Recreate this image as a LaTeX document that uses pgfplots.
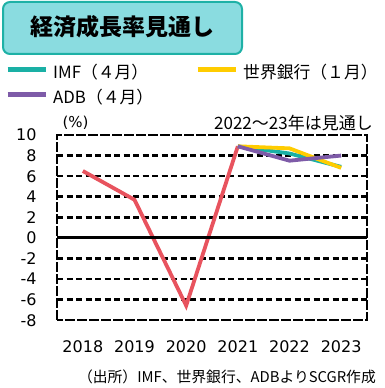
\documentclass[border=0pt]{standalone}
\usepackage{pgfplots}
\pgfplotsset{compat=1.18}
\usepackage{fontspec}
\setmainfont{Noto Sans CJK JP}
\newfontfamily\numfont{DejaVu Sans}
\definecolor{imfc}{HTML}{1AB0A5}
\definecolor{wbc}{HTML}{FFCC00}
\definecolor{adbc}{HTML}{7E5BA8}
\definecolor{histred}{HTML}{E8535E}
\definecolor{titlefill}{HTML}{8ADCE0}
\definecolor{titleedge}{HTML}{1EB1A6}
\begin{document}
\begin{tikzpicture}[x=1pt,y=1pt]
\path[use as bounding box] (0,0) rectangle (385,388);
\draw[rounded corners=7pt, fill=titlefill, draw=titleedge, line width=2pt] (3,334) rectangle (242,386);
\node[font=\fontsize{23}{23}\selectfont\bfseries] at (122,361) {経済成長率見通し};
\node[font=\numfont\fontsize{15}{15}\selectfont, anchor=west] at (59,265) {(\%)};
\node[font=\fontsize{17}{17}\selectfont, anchor=east, inner sep=0pt] at (373,265) {2022～23年は見通し};
\node[font=\fontsize{14.8}{15}\selectfont, anchor=east, inner sep=0pt] at (376,11) {（出所）IMF、世界銀行、ADBよりSCGR作成};
\begin{axis}[
  at={(57pt,68pt)}, anchor=south west, scale only axis,
  width=310pt, height=185pt,
  xmin=2017.5, xmax=2023.5, ymin=-8, ymax=10,
  xtick={2018,2019,2020,2021,2022,2023},
  xticklabels={2018,2019,2020,2021,2022,2023},
  ytick={-6,-4,-2,2,4,6,8},
  yticklabels={-6,-4,-2,2,4,6,8},
  extra y ticks={-8,0,10},
  extra y tick labels={-8,0,10},
  extra y tick style={ymajorgrids=false},
  ymajorgrids,
  major grid style={black, line width=2.6pt, dash pattern=on 6pt off 3.5pt},
  major tick length=0pt,
  axis line style={black, line width=2.6pt, dash pattern=on 10pt off 2pt},
  xticklabel style={font=\numfont\fontsize{16}{16}\selectfont, anchor=base, yshift=-32.7pt},
  yticklabel style={font=\numfont\fontsize{16}{16}\selectfont, anchor=base east, xshift=-17pt, yshift=-6pt},
  legend columns=2,
  legend style={at={(-0.1677,1.3838)}, anchor=north west, draw=none, fill=none, inner sep=0pt,
    font=\fontsize{16.8}{17}\selectfont,
    nodes={text height=12pt, text depth=3pt, inner sep=2pt},
    row sep=6pt,
    /tikz/every odd column/.append style={column sep=3pt},
    /tikz/every even column/.append style={column sep=40pt}},
  legend cell align=left,
  legend image code/.code={\draw[#1, line width=5pt] (0pt,4pt) -- (38pt,4pt);},
]
\addplot[histred, line width=3.8pt, forget plot] coordinates {(2018,6.5) (2019,3.7) (2020,-6.6) (2021,8.9)};
\addplot[imfc, line width=3.8pt] coordinates {(2021,8.9) (2022,8.2) (2023,6.9)};
\addplot[wbc, line width=3.8pt] coordinates {(2021,8.9) (2022,8.7) (2023,6.8)};
\addplot[adbc, line width=3.8pt] coordinates {(2021,8.9) (2022,7.5) (2023,8.0)};
\legend{IMF（４月）,世界銀行（１月）,ADB（４月）}
\draw[black, line width=2.6pt] (axis cs:2017.5,0) -- (axis cs:2023.5,0);
\end{axis}
\end{tikzpicture}
\end{document}
